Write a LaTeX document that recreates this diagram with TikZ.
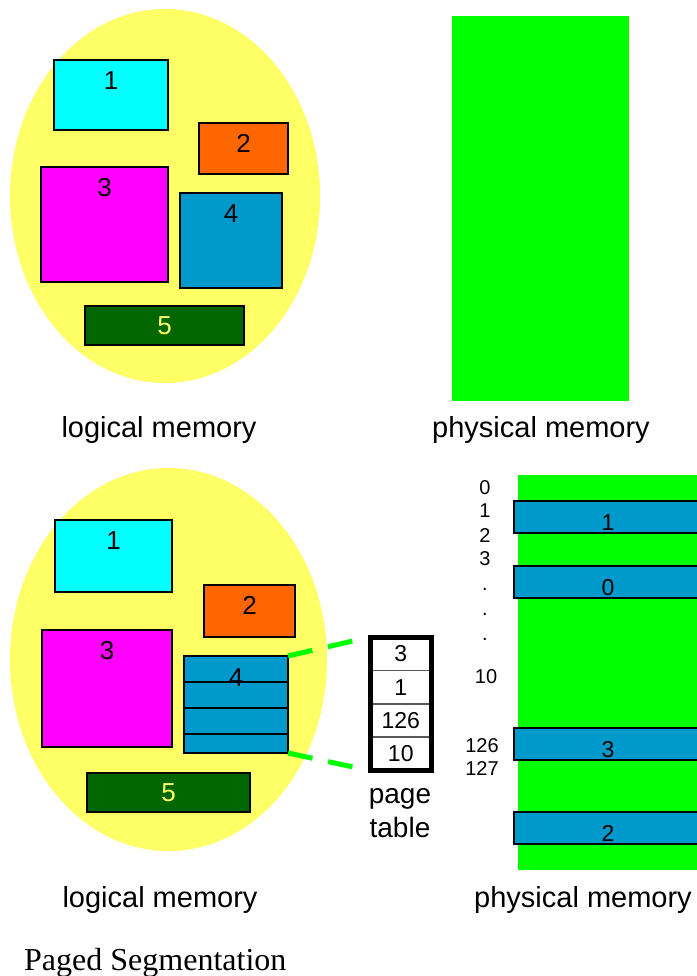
\documentclass[tikz,border=0pt]{standalone}
\usepackage{fontspec}
\setmainfont{Liberation Sans}
\newfontfamily\captionfont{Liberation Serif}
\usetikzlibrary{positioning}

\definecolor{eggyellow}{HTML}{FFFF66}
\definecolor{segcyan}{HTML}{00FFFF}
\definecolor{segorange}{HTML}{FF6600}
\definecolor{segmagenta}{HTML}{FF00FF}
\definecolor{segblue}{HTML}{0099CC}
\definecolor{segdark}{HTML}{006600}
\definecolor{memgreen}{HTML}{00FF00}

\tikzset{
    segbox/.style={draw=black, line width=1.5pt, anchor=north west, inner sep=0pt, outer sep=0pt},
    segnum/.style={inner sep=0pt, font=\fontsize{26}{30}\selectfont},
    memlabel/.style={inner sep=0pt, anchor=base, font=\fontsize{29}{34}\selectfont},
    addr/.style={inner sep=0pt, anchor=base, font=\fontsize{20}{24}\selectfont},
    framebox/.style={segbox, fill=segblue, minimum width=188pt, minimum height=32pt},
    framenum/.style={inner sep=0pt, anchor=base, font=\fontsize{23}{27}\selectfont},
    ptcell/.style={draw=black!65, line width=1.5pt, fill=white, minimum width=61.5pt, minimum height=33.4pt,
        inner sep=0pt, outer sep=0pt, font=\fontsize{23}{27}\selectfont},
    pagelink/.style={draw=memgreen, line width=5pt, dash pattern=on 25pt off 16pt, shorten >=18pt}
}

\begin{document}
\begin{tikzpicture}[x=1pt, y=-1pt]
    \useasboundingbox (0,0) rectangle (696,976);

    \begin{scope}
        \fill[eggyellow] (165,196) ellipse [x radius=155, y radius=187];

        \node[segbox, fill=segcyan, minimum width=114pt, minimum height=70pt] (la1) at (54,60) {};
        \node[segbox, fill=segorange, minimum width=89pt, minimum height=51pt] (la2) at (199,123) {};
        \node[segbox, fill=segmagenta, minimum width=127pt, minimum height=115pt] (la3) at (41,167) {};
        \node[segbox, fill=segblue, minimum width=102pt, minimum height=95pt] (la4) at (180,193) {};
        \node[segbox, fill=segdark, minimum width=159pt, minimum height=39pt] (la5) at (85,306) {};

        \node[segnum, below=11pt of la1.north] (la1t) {1};
        \node[segnum] (la2t) at ([yshift=5pt]la2.center) {2};
        \node[segnum, below=11pt of la3.north] (la3t) {3};
        \node[segnum, below=11pt of la4.north] (la4t) {4};
        \node[segnum, text=eggyellow] (la5t) at (la5.center) {5};

        \fill[memgreen] (452,16) rectangle (629,401);

        \node[memlabel] (lmtop) at (159,437.5) {logical memory};
        \node[memlabel] (pmtop) at (541,437.5) {physical memory};
    \end{scope}

    \begin{scope}
        \fill[eggyellow] (168.5,659.5) ellipse [x radius=158.5, y radius=191.5];

        \node[segbox, fill=segcyan, minimum width=117pt, minimum height=72pt] (lb1) at (55,520) {};
        \node[segbox, fill=segorange, minimum width=91pt, minimum height=52pt] (lb2) at (204,585) {};
        \node[segbox, fill=segmagenta, minimum width=130pt, minimum height=117pt] (lb3) at (42,630) {};
        \node[segbox, fill=segblue, minimum width=104pt, minimum height=97pt] (lb4) at (184,656) {};
        \node[segbox, fill=segdark, minimum width=163pt, minimum height=39pt] (lb5) at (87,773) {};

        \foreach \y in {682,708,734} {
            \draw[line width=1.5pt] (lb4.west |- 0,\y) -- (lb4.east |- 0,\y);
        }

        \node[segnum, below=11pt of lb1.north] (lb1t) {1};
        \node[segnum] (lb2t) at ([yshift=6pt]lb2.center) {2};
        \node[segnum, below=11pt of lb3.north] (lb3t) {3};
        \node[segnum, below=12pt of lb4.north] (lb4t) {4};
        \node[segnum, text=eggyellow] (lb5t) at (lb5.center) {5};

        \node[ptcell] (pt1) at (400.75,653.7) {3};
        \node[ptcell, below=0pt of pt1] (pt2) {1};
        \node[ptcell, below=0pt of pt2] (pt3) {126};
        \node[ptcell, below=0pt of pt3] (pt4) {10};
        \draw[line width=5pt] (pt1.north west) rectangle (pt4.south east);

        \node[memlabel, font=\fontsize{28}{34}\selectfont] (ptcapa) at (400,803) {page};
        \node[memlabel, font=\fontsize{28}{34}\selectfont] (ptcapb) at (400,837) {table};

        \draw[pagelink] (lb4.north east) -- (pt1.north west);
        \draw[pagelink] (lb4.south east) -- (pt4.south west);

        \fill[memgreen] (518,475) rectangle (700,870);

        \node[framebox] (fr1) at (514,501) {};
        \node[framebox] (fr0) at (514,566) {};
        \node[framebox] (fr3) at (514,728) {};
        \node[framebox] (fr2) at (514,812) {};
        \node[framenum] (fr1t) at ([yshift=3pt]fr1.south) {1};
        \node[framenum] (fr0t) at ([yshift=3pt]fr0.south) {0};
        \node[framenum] (fr3t) at ([yshift=3pt]fr3.south) {3};
        \node[framenum] (fr2t) at ([yshift=3pt]fr2.south) {2};

        \node[addr] (ad0) at (485,494) {0};
        \node[addr] (ad1) at (485,517) {1};
        \node[addr] (ad2) at (485,542) {2};
        \node[addr] (ad3) at (485,565) {3};
        \foreach \y in {590,615,640} {
            \node[addr] at (485,\y) {.};
        }
        \node[addr] (ad10) at (486,683) {10};
        \node[addr] (ad126) at (482,752) {126};
        \node[addr] (ad127) at (482,775) {127};

        \node[memlabel] (lmbot) at (160,907) {logical memory};
        \node[memlabel] (pmbot) at (583,907) {physical memory};
    \end{scope}

    \node[inner sep=0pt, anchor=base west, font=\captionfont\fontsize{32}{38}\selectfont] (title) at (24,970)
        {Paged Segmentation};
\end{tikzpicture}
\end{document}
